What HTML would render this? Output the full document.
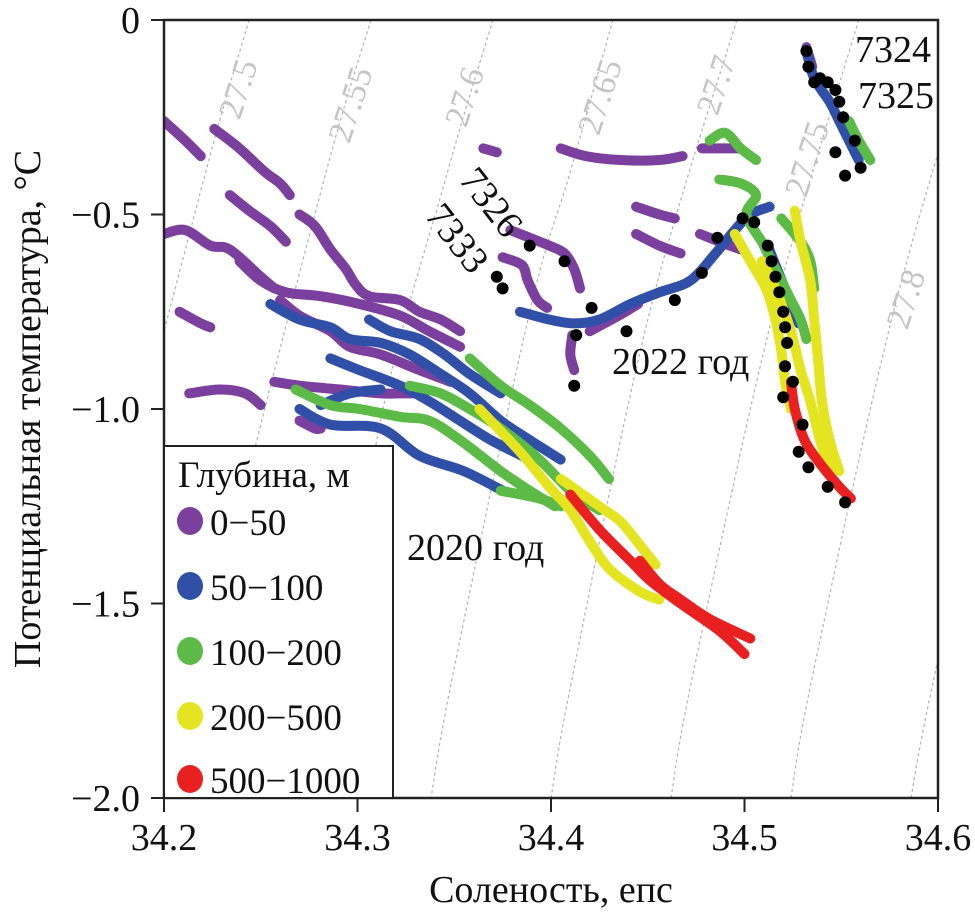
<!DOCTYPE html>
<html><head><meta charset="utf-8"><style>
html,body{margin:0;padding:0;background:#fff;}
svg, svg text{font-family:"Liberation Serif","Times New Roman","DejaVu Serif",serif;}
</style></head><body>
<svg id="chart" width="975" height="913" viewBox="0 0 975 913" xmlns="http://www.w3.org/2000/svg" font-family="Liberation Serif, serif">
<defs><clipPath id="plotclip"><rect x="164" y="20" width="774" height="778"/></clipPath></defs>
<rect x="0" y="0" width="975" height="913" fill="#fff"/>
<g id="iso" clip-path="url(#plotclip)"></g>
<g id="isolabels" font-size="34" fill="#c4c4c4"></g>
<g id="marks" clip-path="url(#plotclip)"></g>
<g id="annot" font-size="38" fill="#111"></g>
<rect x="164" y="20" width="774" height="778" fill="none" stroke="#222" stroke-width="2.5"/>
<g id="axes" font-size="38" fill="#111"></g>
<text x="551" y="902" font-size="38" text-anchor="middle" fill="#111">Соленость, епс</text>
<text transform="translate(40,409) rotate(-90)" font-size="38" text-anchor="middle" fill="#111">Потенциальная температура, °C</text>
<g>
<rect x="164" y="446" width="229" height="352" fill="#fff" stroke="#222" stroke-width="2"/>
<text x="178" y="487" font-size="37" fill="#111">Глубина, м</text>
<g><ellipse cx="190" cy="521" rx="13" ry="14" fill="#7b3f9e"/><text x="210" y="535" font-size="37" fill="#111">0−50</text></g>
<g><ellipse cx="190" cy="586" rx="13" ry="14" fill="#3050a8"/><text x="210" y="600" font-size="37" fill="#111">50−100</text></g>
<g><ellipse cx="190" cy="651" rx="13" ry="14" fill="#5cba46"/><text x="210" y="665" font-size="37" fill="#111">100−200</text></g>
<g><ellipse cx="190" cy="716" rx="13" ry="14" fill="#e4e420"/><text x="210" y="730" font-size="37" fill="#111">200−500</text></g>
<g><ellipse cx="190" cy="779" rx="13" ry="14" fill="#e8201f"/><text x="210" y="793" font-size="37" fill="#111">500−1000</text></g>
</g>
</svg>
<script>
const xTicks=[34.2,34.3,34.4,34.5,34.6];
const xTickLabels=["34.2","34.3","34.4","34.5","34.6"];
const yTicks=[0,-0.5,-1.0,-1.5,-2.0];
const yTickLabels=["0","−0.5","−1.0","−1.5","−2.0"];
const isoValues=["27.5","27.55","27.6","27.65","27.7","27.75","27.8","27.85"];
const isoCurves=[
[[34.244,0],[34.227,-0.29],[34.200,-0.80]],
[[34.307,0],[34.286,-0.35],[34.248,-1.08],[34.234,-1.39]],
[[34.370,0],[34.346,-0.40],[34.310,-1.08],[34.286,-2.0]],
[[34.432,0],[34.410,-0.39],[34.389,-0.75],[34.349,-1.69],[34.338,-2.0]],
[[34.496,0],[34.451,-0.75],[34.411,-1.69],[34.400,-2.0]],
[[34.559,0],[34.515,-0.75],[34.473,-1.69],[34.462,-2.0]],
[[34.621,0],[34.577,-0.75],[34.535,-1.69],[34.524,-2.0]],
[[34.684,0],[34.640,-0.75],[34.598,-1.69],[34.586,-2.0]]
];
const isoLabelPos=[[34.240,-0.18],[34.298,-0.22],[34.357,-0.20],[34.427,-0.20],[34.487,-0.17],[34.534,-0.36],[34.585,-0.72]];
const purple=[
[[34.200,-0.26],[34.211,-0.31],[34.219,-0.35]],
[[34.226,-0.28],[34.239,-0.33],[34.252,-0.39],[34.260,-0.42],[34.265,-0.45]],
[[34.234,-0.45],[34.244,-0.49],[34.255,-0.53],[34.263,-0.57]],
[[34.200,-0.55],[34.211,-0.54],[34.224,-0.58],[34.234,-0.59],[34.250,-0.66],[34.257,-0.69]],
[[34.270,-0.50],[34.278,-0.53],[34.286,-0.59],[34.294,-0.64],[34.299,-0.68],[34.306,-0.71],[34.322,-0.72],[34.332,-0.75],[34.343,-0.77],[34.353,-0.80]],
[[34.239,-0.62],[34.250,-0.67],[34.263,-0.70],[34.281,-0.71],[34.301,-0.73],[34.322,-0.76],[34.337,-0.80],[34.353,-0.84]],
[[34.260,-0.72],[34.270,-0.76],[34.286,-0.80],[34.296,-0.84],[34.312,-0.86],[34.332,-0.90],[34.348,-0.93]],
[[34.208,-0.75],[34.219,-0.78],[34.224,-0.79]],
[[34.213,-0.96],[34.229,-0.95],[34.242,-0.96],[34.250,-0.99]],
[[34.257,-0.93],[34.270,-0.94],[34.291,-0.95],[34.312,-0.96],[34.322,-0.96],[34.332,-0.96]],
[[34.270,-1.03],[34.278,-1.05],[34.281,-1.05]],
[[34.365,-0.33],[34.372,-0.34]],
[[34.405,-0.33],[34.418,-0.35],[34.436,-0.36],[34.456,-0.36],[34.468,-0.35]],
[[34.478,-0.33],[34.487,-0.33],[34.498,-0.33]],
[[34.375,-0.61],[34.385,-0.63],[34.388,-0.67],[34.393,-0.72],[34.398,-0.74]],
[[34.379,-0.54],[34.389,-0.56],[34.399,-0.58],[34.407,-0.60],[34.412,-0.64],[34.415,-0.69]],
[[34.411,-0.81],[34.410,-0.86],[34.412,-0.90]],
[[34.420,-0.80],[34.435,-0.76],[34.445,-0.73]],
[[34.444,-0.48],[34.456,-0.50],[34.464,-0.51]],
[[34.444,-0.55],[34.456,-0.58],[34.467,-0.60]],
[[34.477,-0.55],[34.487,-0.57],[34.498,-0.59]],
[[34.532,-0.07],[34.535,-0.12]]
];
const blue=[
[[34.255,-0.73],[34.270,-0.77],[34.286,-0.79],[34.296,-0.82],[34.312,-0.83],[34.327,-0.86],[34.343,-0.91],[34.358,-0.96],[34.374,-1.03],[34.389,-1.08],[34.405,-1.13]],
[[34.286,-0.87],[34.301,-0.90],[34.322,-0.94],[34.337,-0.98],[34.353,-1.03],[34.369,-1.08],[34.389,-1.13]],
[[34.270,-1.00],[34.286,-1.04],[34.312,-1.05],[34.332,-1.12],[34.355,-1.16],[34.375,-1.21]],
[[34.306,-0.77],[34.317,-0.80],[34.332,-0.82],[34.345,-0.86],[34.358,-0.91],[34.374,-0.96]],
[[34.281,-0.99],[34.296,-0.96],[34.312,-0.95]],
[[34.384,-0.75],[34.399,-0.77],[34.412,-0.78],[34.425,-0.77],[34.441,-0.73],[34.456,-0.70],[34.472,-0.67],[34.485,-0.60],[34.495,-0.54],[34.503,-0.50],[34.513,-0.48]],
[[34.532,-0.08],[34.536,-0.15],[34.544,-0.21],[34.549,-0.26],[34.554,-0.31],[34.559,-0.36]],
[[34.512,-0.58],[34.520,-0.68],[34.528,-0.78]]
];
const green=[
[[34.268,-0.95],[34.286,-0.99],[34.301,-1.00],[34.322,-1.02],[34.337,-1.03],[34.353,-1.08],[34.374,-1.16],[34.389,-1.21],[34.402,-1.25]],
[[34.327,-0.94],[34.343,-0.96],[34.358,-1.00],[34.374,-1.05],[34.394,-1.13],[34.410,-1.21],[34.425,-1.26]],
[[34.358,-0.87],[34.374,-0.94],[34.389,-0.99],[34.405,-1.05],[34.420,-1.12],[34.430,-1.18]],
[[34.374,-1.21],[34.394,-1.23],[34.405,-1.25]],
[[34.482,-0.31],[34.490,-0.29],[34.498,-0.33],[34.506,-0.36]],
[[34.487,-0.41],[34.498,-0.42],[34.506,-0.45],[34.501,-0.50],[34.509,-0.57]],
[[34.509,-0.57],[34.514,-0.62],[34.519,-0.67],[34.524,-0.72],[34.529,-0.77],[34.532,-0.82]],
[[34.519,-0.51],[34.529,-0.57],[34.534,-0.62],[34.536,-0.69]],
[[34.554,-0.26],[34.559,-0.31],[34.565,-0.36]]
];
const yellow=[
[[34.363,-1.00],[34.384,-1.11],[34.399,-1.20],[34.410,-1.26],[34.420,-1.34],[34.430,-1.41],[34.446,-1.47],[34.456,-1.49]],
[[34.405,-1.18],[34.425,-1.25],[34.436,-1.29],[34.446,-1.35],[34.454,-1.40]],
[[34.495,-0.55],[34.503,-0.62],[34.511,-0.69],[34.516,-0.77],[34.519,-0.85],[34.521,-0.93],[34.524,-1.00]],
[[34.509,-0.62],[34.516,-0.69],[34.524,-0.80],[34.529,-0.90],[34.534,-0.98],[34.539,-1.08],[34.544,-1.16]],
[[34.526,-0.49],[34.529,-0.57],[34.534,-0.67],[34.536,-0.77],[34.538,-0.87],[34.540,-0.98],[34.544,-1.08],[34.549,-1.16]]
];
const red=[
[[34.410,-1.22],[34.425,-1.31],[34.441,-1.39],[34.451,-1.44],[34.467,-1.50],[34.487,-1.57],[34.500,-1.63]],
[[34.446,-1.39],[34.456,-1.45],[34.467,-1.49],[34.482,-1.54],[34.503,-1.59]],
[[34.524,-0.93],[34.526,-1.00],[34.531,-1.08],[34.539,-1.14],[34.549,-1.20],[34.555,-1.23]]
];
const stationS=[34.372,34.375,34.389,34.407,34.421,34.413,34.412,34.439,34.464,34.478,34.486,34.499,34.505,34.512,34.514,34.516,34.518,34.520,34.521,34.522,34.521,34.525,34.520,34.530,34.528,34.533,34.543,34.552,34.532,34.533,34.536,34.543,34.547,34.549,34.557,34.547,34.560,34.552,34.539,34.551];
const stationT=[-0.66,-0.69,-0.58,-0.62,-0.74,-0.81,-0.94,-0.80,-0.72,-0.65,-0.56,-0.51,-0.52,-0.58,-0.62,-0.66,-0.70,-0.75,-0.79,-0.83,-0.89,-0.93,-0.97,-1.04,-1.11,-1.15,-1.20,-1.24,-0.08,-0.12,-0.16,-0.16,-0.18,-0.21,-0.31,-0.34,-0.38,-0.40,-0.15,-0.25];

const NS="http://www.w3.org/2000/svg";
function sx(s){return 164+(s-34.2)/0.4*774;}
function ty(t){return 20+(-t)/2*778;}
function mk(tag,parent){const e=document.createElementNS(NS,tag);parent.appendChild(e);return e;}
function smooth(pts){
  const p=pts.map(q=>[sx(q[0]),ty(q[1])]);
  let d="M"+p[0][0].toFixed(1)+","+p[0][1].toFixed(1);
  for(let i=1;i<p.length;i++){
    const p0=p[Math.max(0,i-2)],p1=p[i-1],p2=p[i],p3=p[Math.min(p.length-1,i+1)];
    const c1=[p1[0]+(p2[0]-p0[0])/6,p1[1]+(p2[1]-p0[1])/6];
    const c2=[p2[0]-(p3[0]-p1[0])/6,p2[1]-(p3[1]-p1[1])/6];
    d+=" C"+c1.map(v=>v.toFixed(1)).join(",")+" "+c2.map(v=>v.toFixed(1)).join(",")+" "+p2[0].toFixed(1)+","+p2[1].toFixed(1);
  }
  return d;
}
const iso=document.getElementById('iso');
isoCurves.forEach((c,i)=>{
  const p=mk('path',iso);
  
  
  p.setAttribute('d',smooth(c));p.setAttribute('fill','none');p.setAttribute('stroke','#b0b0b0');
  p.setAttribute('stroke-width','1.2');p.setAttribute('stroke-dasharray','3 3');
});
const il=document.getElementById('isolabels');
isoLabelPos.forEach((pp,i)=>{
  const t=mk('text',il);
  
  
  const x=sx(pp[0]),y=ty(pp[1]);
  t.setAttribute('transform','translate('+x.toFixed(1)+','+y.toFixed(1)+') rotate(-72)');
  t.setAttribute('text-anchor','middle');t.setAttribute('dominant-baseline','middle');
  t.textContent=isoValues[i];
});
const marks=document.getElementById('marks');
function drawSeries(arr,color,name){
  const g=mk('g',marks);
  
  
  arr.forEach((tr,k)=>{
    const p=mk('path',g);
    
    
    p.setAttribute('d',smooth(tr));p.setAttribute('fill','none');p.setAttribute('stroke',color);
    p.setAttribute('stroke-width','10');p.setAttribute('stroke-linecap','round');p.setAttribute('stroke-linejoin','round');
  });
}
drawSeries(purple,'#7b3f9e','depth-0-50');
drawSeries(blue,'#3050a8','depth-50-100');
drawSeries(green,'#5cba46','depth-100-200');
drawSeries(yellow,'#e4e420','depth-200-500');
drawSeries(red,'#e8201f','depth-500-1000');
const sg=mk('g',marks);


stationS.forEach((s,i)=>{
  const c=mk('circle',sg);
  
  
  c.setAttribute('cx',sx(s).toFixed(1));c.setAttribute('cy',ty(stationT[i]).toFixed(1));
  c.setAttribute('r','6');c.setAttribute('fill','#000');
});
const ax=document.getElementById('axes');
xTicks.forEach((v,i)=>{
  const x=sx(v);
  const l=mk('line',ax);
  
  
  l.setAttribute('x1',x);l.setAttribute('x2',x);l.setAttribute('y1',798);l.setAttribute('y2',812);
  l.setAttribute('stroke','#222');l.setAttribute('stroke-width','2');
  const t=mk('text',ax);
  
  
  t.setAttribute('x',x);t.setAttribute('y',850);t.setAttribute('text-anchor','middle');
  t.textContent=xTickLabels[i];
});
yTicks.forEach((v,i)=>{
  const y=ty(v);
  const l=mk('line',ax);
  
  
  l.setAttribute('x1',151);l.setAttribute('x2',164);l.setAttribute('y1',y);l.setAttribute('y2',y);
  l.setAttribute('stroke','#222');l.setAttribute('stroke-width','2');
  const t=mk('text',ax);
  
  
  t.setAttribute('x',140);t.setAttribute('y',y+13);t.setAttribute('text-anchor','end');
  t.textContent=yTickLabels[i];
});
const an=document.getElementById('annot');
const annText=["7324","7325","7326","7333","2022 год","2020 год"];
const annPos=[[855,62,0],[858,108,0],[458,180,52],[424,216,52],[612,374,0],[407,560,0]];
annText.forEach((s,i)=>{
  const t=mk('text',an);
  
  
  const p=annPos[i];
  t.setAttribute('transform','translate('+p[0]+','+p[1]+') rotate('+p[2]+')');
  t.textContent=s;
});
</script>
</body></html>
